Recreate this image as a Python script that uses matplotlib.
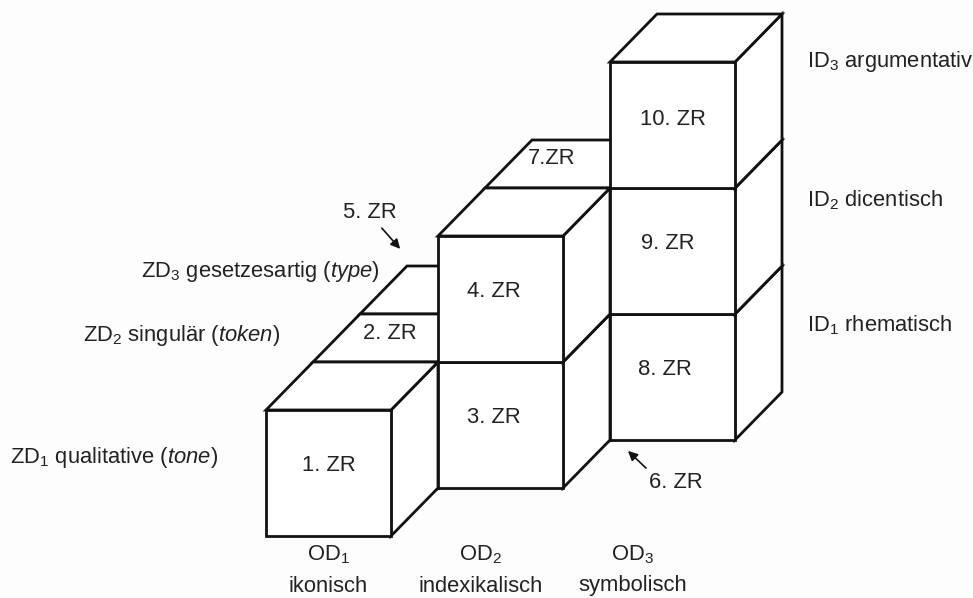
import numpy as np
import matplotlib.pyplot as plt
from matplotlib.patches import Polygon

plt.rcParams['font.family'] = ['Liberation Sans', 'DejaVu Sans']
plt.rcParams['mathtext.fontset'] = 'custom'
plt.rcParams['mathtext.rm'] = 'Liberation Sans'
plt.rcParams['mathtext.it'] = 'Liberation Sans:italic'

# grid cells (OD, ZD, ID) that hold a cube
cubes = [(0, 0, 0), (0, 1, 0), (0, 2, 0),
         (1, 1, 0), (1, 2, 0), (1, 1, 1), (1, 2, 1),
         (2, 2, 0), (2, 2, 1), (2, 2, 2)]

# labels written on the faces, with their place on the grid
zr_names = ['1. ZR', '2. ZR', '3. ZR', '4. ZR', '7.ZR', '8. ZR', '9. ZR', '10. ZR']
zr_cells = [(0.5, 0, 0.56), (0.39, 1.6, 1), (1.45, 1, 0.56), (1.45, 1, 1.56),
            (1.3, 2.62, 2), (2.44, 2, 0.56), (2.46, 2, 1.56), (2.5, 2, 2.54)]

od_names = ['OD$_{\\mathrm{1}}$', 'OD$_{\\mathrm{2}}$', 'OD$_{\\mathrm{3}}$']
od_words = ['ikonisch', 'indexikalisch', 'symbolisch']
zd_names = ['ZD$_{\\mathrm{1}}$ qualitative ($\\mathit{tone}$)',
            'ZD$_{\\mathrm{2}}$ singulär ($\\mathit{token}$)',
            'ZD$_{\\mathrm{3}}$ gesetzesartig ($\\mathit{type}$)']
id_names = ['ID$_{\\mathrm{1}}$ rhematisch', 'ID$_{\\mathrm{2}}$ dicentisch',
            'ID$_{\\mathrm{3}}$ argumentativ']

# oblique projection in pixels
X0, Y0 = 266, 536
W, H = 125, 126
DX, DY = 47, -48


def proj(x, y, z):
    return X0 + W * x + DX * y, Y0 - H * z + DY * y


fig = plt.figure(figsize=(9.73, 5.98), dpi=100)
ax = fig.add_axes([0, 0, 1, 1])
ax.set_xlim(0, 973)
ax.set_ylim(598, 0)
ax.axis('off')
fig.patch.set_facecolor('#fdfdfd')

lw = 2.0
# painter's order: back, left, low first
for (x, y, z) in sorted(cubes, key=lambda c: c[0] - c[1] + c[2]):
    front = [proj(x, y, z), proj(x + 1, y, z), proj(x + 1, y, z + 1), proj(x, y, z + 1)]
    top = [proj(x, y, z + 1), proj(x + 1, y, z + 1), proj(x + 1, y + 1, z + 1), proj(x, y + 1, z + 1)]
    side = [proj(x + 1, y, z), proj(x + 1, y + 1, z), proj(x + 1, y + 1, z + 1), proj(x + 1, y, z + 1)]
    for f in (side, top, front):
        ax.add_patch(Polygon(f, closed=True, facecolor='white', edgecolor='#111111',
                             lw=lw, joinstyle='miter'))

tc = '#222222'
fs = 15.8
for name, c in zip(zr_names, zr_cells):
    px, py = proj(*c)
    ax.text(px, py, name, ha='center', va='center', fontsize=fs, color=tc)

for i in range(3):
    px, _ = proj(i + 0.5, i, 0)
    ax.text(px - 20 * i, 555, od_names[i], ha='center', va='center', fontsize=fs, color=tc)
    ax.text(px - 20 * i, 586, od_words[i], ha='center', va='center', fontsize=fs, color=tc)

zd_right = [218, 280, 380]
zd_y = [458, 336, 272]
for i in range(3):
    ax.text(zd_right[i], zd_y[i], zd_names[i], ha='right', va='center', fontsize=fs, color=tc)

id_y = [325, 200, 62]
for i in range(3):
    ax.text(807, id_y[i], id_names[i], ha='left', va='center', fontsize=fs, color=tc)

ax.text(370, 212, '5. ZR', ha='center', va='center', fontsize=fs, color=tc)
ax.annotate('', xy=(402, 251), xytext=(380, 226),
            arrowprops=dict(arrowstyle='-|>', color='#111111', lw=1.2, mutation_scale=14))
ax.text(676, 482, '6. ZR', ha='center', va='center', fontsize=fs, color=tc)
ax.annotate('', xy=(626, 449), xytext=(648, 470),
            arrowprops=dict(arrowstyle='-|>', color='#111111', lw=1.2, mutation_scale=14))

fig.savefig('out.png', dpi=100, facecolor=fig.get_facecolor())
